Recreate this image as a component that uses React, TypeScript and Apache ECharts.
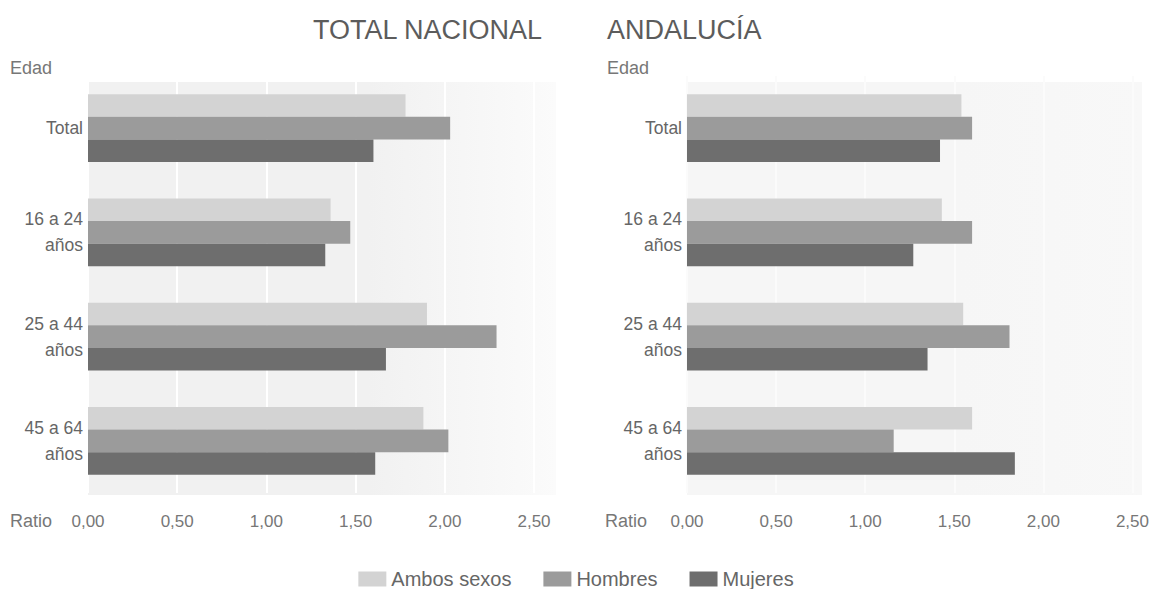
import React, { useEffect, useRef } from "react";
import * as echarts from "echarts";

const categories = ["Total", "16 a 24\naños", "25 a 44\naños", "45 a 64\naños"];
const seriesNames = ["Ambos sexos", "Hombres", "Mujeres"];

// TOTAL NACIONAL
const nacionalAmbos = [1.78, 1.36, 1.9, 1.88];
const nacionalHombres = [2.03, 1.47, 2.29, 2.02];
const nacionalMujeres = [1.6, 1.33, 1.67, 1.61];

// ANDALUCÍA
const andaluciaAmbos = [1.54, 1.43, 1.55, 1.6];
const andaluciaHombres = [1.6, 1.6, 1.81, 1.16];
const andaluciaMujeres = [1.42, 1.27, 1.35, 1.84];

const xTicks = { min: 0, max: 2.5, interval: 0.5 };
const panelTitles = ["TOTAL NACIONAL", "ANDALUCÍA"];
const colors = ["#d3d3d3", "#9b9b9b", "#6e6e6e"];

const FONT = "'Liberation Sans', Arial, Helvetica, sans-serif";

export default function App() {
  const ref = useRef<HTMLDivElement>(null);

  useEffect(() => {
    if (!ref.current) return;
    const chart = echarts.init(ref.current, null, { renderer: "svg" });

    const grids = [
      { left: 88, top: 76, width: 446, height: 417 },
      { left: 687, top: 76, width: 446, height: 417 },
    ];

    const xAxis = grids.map((_, i) => ({
      type: "value",
      gridIndex: i,
      min: xTicks.min,
      max: xTicks.max,
      interval: xTicks.interval,
      axisLine: { show: false },
      axisTick: { show: false },
      splitLine: {
        show: true,
        lineStyle: { color: i === 0 ? "#ffffff" : "#fbfbfb", width: 2 },
      },
      axisLabel: {
        margin: 20,
        color: "#777777",
        fontSize: 17,
        fontFamily: FONT,
        formatter: (v: number) => v.toFixed(2).replace(".", ","),
      },
    }));

    const yAxis = grids.map((_, i) => ({
      type: "category",
      gridIndex: i,
      inverse: true,
      data: categories,
      axisLine: { show: false },
      axisTick: { show: false },
      splitLine: { show: false },
      axisLabel: {
        margin: 5,
        color: "#666666",
        fontSize: 17.5,
        lineHeight: 26,
        fontFamily: FONT,
        align: "right",
      },
    }));

    const panelData = [
      [nacionalAmbos, nacionalHombres, nacionalMujeres],
      [andaluciaAmbos, andaluciaHombres, andaluciaMujeres],
    ];

    const series: any[] = [];
    panelData.forEach((panel, p) => {
      panel.forEach((vals, s) => {
        series.push({
          type: "bar",
          name: seriesNames[s],
          xAxisIndex: p,
          yAxisIndex: p,
          data: vals,
          barGap: "0%",
          barCategoryGap: "35%",
          itemStyle: { color: colors[s] },
          emphasis: { disabled: true },
        });
      });
    });

    const bgFill = (a: string, b: string) =>
      new echarts.graphic.LinearGradient(0, 0, 1, 0, [
        { offset: 0, color: a },
        { offset: 0.6, color: a },
        { offset: 1, color: b },
      ]);

    const textStyle = (size: number, color: string) => ({
      fill: color,
      fontSize: size,
      fontFamily: FONT,
    });

    const graphic = [
      {
        type: "rect",
        z: -10,
        silent: true,
        shape: { x: 88, y: 82, width: 468, height: 413 },
        style: { fill: bgFill("#f1f1f1", "#fbfbfb") },
      },
      {
        type: "rect",
        z: -10,
        silent: true,
        shape: { x: 687, y: 82, width: 455, height: 413 },
        style: { fill: bgFill("#f6f6f6", "#f8f8f8") },
      },
      {
        type: "text",
        x: 313,
        y: 30,
        style: { ...textStyle(27, "#5c5c5c"), text: panelTitles[0], textVerticalAlign: "middle" },
      },
      {
        type: "text",
        x: 607,
        y: 30,
        style: { ...textStyle(27, "#5c5c5c"), text: panelTitles[1], textVerticalAlign: "middle" },
      },
      {
        type: "text",
        x: 10,
        y: 68,
        style: { ...textStyle(18, "#777777"), text: "Edad", textVerticalAlign: "middle" },
      },
      {
        type: "text",
        x: 607,
        y: 68,
        style: { ...textStyle(18, "#777777"), text: "Edad", textVerticalAlign: "middle" },
      },
      {
        type: "text",
        x: 10,
        y: 521,
        style: { ...textStyle(18, "#777777"), text: "Ratio", textVerticalAlign: "middle" },
      },
      {
        type: "text",
        x: 605,
        y: 521,
        style: { ...textStyle(18, "#777777"), text: "Ratio", textVerticalAlign: "middle" },
      },
    ];

    chart.setOption({
      animation: false,
      backgroundColor: "#ffffff",
      grid: grids,
      xAxis,
      yAxis,
      series,
      graphic,
      legend: {
        data: seriesNames,
        left: "center",
        top: 564,
        icon: "rect",
        itemWidth: 28,
        itemHeight: 15,
        itemGap: 32,
        selectedMode: false,
        textStyle: { color: "#666666", fontSize: 20, fontFamily: FONT },
      },
    });

    return () => chart.dispose();
  }, []);

  return (
    <div
      ref={ref}
      style={{ position: "absolute", left: 0, top: 0, width: 1152, height: 589 }}
    />
  );
}
